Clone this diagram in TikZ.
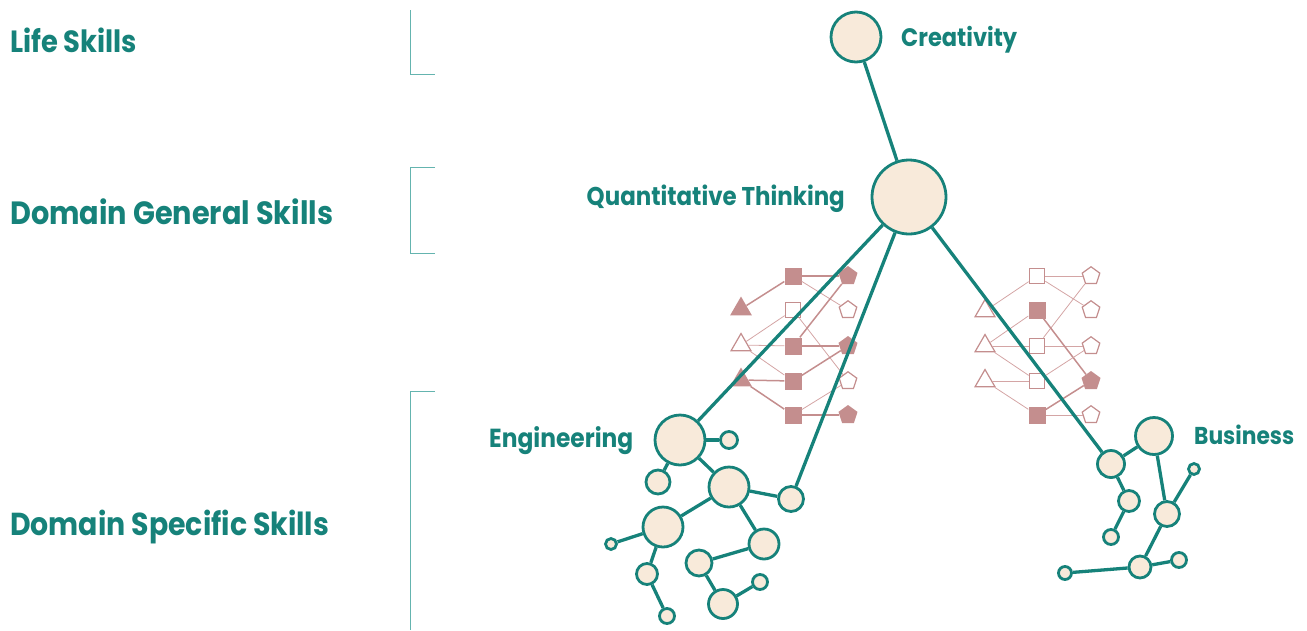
\documentclass[tikz,border=0pt]{standalone}
\usepackage{fontspec}
\setmainfont{Poppins}
\usetikzlibrary{shapes.geometric}
\definecolor{tealc}{RGB}{22,130,122}
\definecolor{beige}{RGB}{248,234,218}
\definecolor{rose}{RGB}{196,142,142}
\definecolor{rosel}{RGB}{212,165,165}
\definecolor{brk}{RGB}{100,180,175}
\newcommand\fitw[2]{\resizebox{#1}{!}{\scalebox{1}[1.12]{#2}}}
\begin{document}
\begin{tikzpicture}[x=1pt,y=-1pt,
  lbl/.style={text=tealc, font=\bfseries, inner sep=0pt, anchor=base west},
  circ/.style={circle, draw=tealc, fill=beige, line width=2.8pt, inner sep=0pt, minimum size=#1},
  tedge/.style={draw=tealc, line width=3.3pt},
  sqf/.style={rectangle, fill=rose, inner sep=0pt, minimum size=17},
  sqo/.style={rectangle, draw=rose, fill=white, line width=1.2pt, inner sep=0pt, minimum size=15.5},
  trif/.style={regular polygon, regular polygon sides=3, fill=rose, inner sep=0pt, minimum size=25},
  trio/.style={regular polygon, regular polygon sides=3, draw=rose, fill=white, line width=1.2pt, inner sep=0pt, minimum size=23},
  penf/.style={regular polygon, regular polygon sides=5, fill=rose, inner sep=0pt, minimum size=20},
  peno/.style={regular polygon, regular polygon sides=5, draw=rose, fill=white, line width=1.2pt, inner sep=0pt, minimum size=18.5},
  lthin/.style={draw=rosel, line width=0.8pt},
  lthick/.style={draw=rose, line width=1.5pt},
  bracket/.style={draw=brk, line width=1pt}
]
\useasboundingbox (0,0) rectangle (1307,630);

% brackets
\coordinate (b1t) at (410,10); \coordinate (b1c) at (410,74); \coordinate (b1e) at (435,74);
\draw[bracket] (b1t) -- (b1c) -- (b1e);
\coordinate (b2a) at (435,167); \coordinate (b2b) at (410,167); \coordinate (b2c) at (410,253); \coordinate (b2d) at (435,253);
\draw[bracket] (b2a) -- (b2b) -- (b2c) -- (b2d);
\coordinate (b3a) at (435,391); \coordinate (b3b) at (410,391); \coordinate (b3c) at (410,630);
\draw[bracket] (b3a) -- (b3b) -- (b3c);

% left labels
\node[lbl] (life) at (10,52) {\fitw{127pt}{Life Skills}};
\node[lbl] (dgs) at (10,224) {\fitw{323pt}{Domain General Skills}};
\node[lbl] (dss) at (10,535) {\fitw{319pt}{Domain Specific Skills}};

% left shape grid
\node[sqf] (ls1) at (793,276) {};
\node[sqo] (ls2) at (793,310) {};
\node[sqf] (ls3) at (793,346) {};
\node[sqf] (ls4) at (793,381) {};
\node[sqf] (ls5) at (793,415) {};
\node[trif] (lt1) at (741,309) {};
\node[trio] (lt2) at (741,345) {};
\node[trif] (lt3) at (741,380) {};
\node[penf] (lp1) at (848,276) {};
\node[peno] (lp2) at (848,310) {};
\node[penf] (lp3) at (848,346) {};
\node[peno] (lp4) at (848,381) {};
\node[penf] (lp5) at (848,415) {};
\draw[lthick] (ls1) -- (lt1);
\draw[lthick] (ls1) -- (lp1);
\draw[lthin] (ls1) -- (lp2);
\draw[lthin] (ls2) -- (lt2);
\draw[lthin] (ls2) -- (lp4);
\draw[lthick] (ls3) -- (lp1);
\draw[lthin] (lt2) -- (ls3);
\draw[lthick] (ls3) -- (lp3);
\draw[lthin] (lt2) -- (ls4);
\draw[lthick] (lt3) -- (ls4);
\draw[lthick] (ls4) -- (lp3);
\draw[lthick] (lt3) -- (ls5);
\draw[lthin] (ls5) -- (lp4);
\draw[lthick] (ls5) -- (lp5);

% right shape grid
\node[sqo] (rs1) at (1037,276) {};
\node[sqf] (rs2) at (1037,310) {};
\node[sqo] (rs3) at (1037,346) {};
\node[sqo] (rs4) at (1037,381) {};
\node[sqf] (rs5) at (1037,415) {};
\node[trio] (rt1) at (985,311) {};
\node[trio] (rt2) at (985,346) {};
\node[trio] (rt3) at (985,381) {};
\node[peno] (rp1) at (1091,276) {};
\node[peno] (rp2) at (1091,310) {};
\node[peno] (rp3) at (1091,346) {};
\node[penf] (rp4) at (1091,381) {};
\node[peno] (rp5) at (1091,415) {};
\draw[lthin] (rt1) -- (rs1);
\draw[lthin] (rs1) -- (rp1);
\draw[lthin] (rs1) -- (rp2);
\draw[lthin] (rt2) -- (rs2);
\draw[lthin] (rt2) -- (rs3);
\draw[lthin] (rt2) -- (rs4);
\draw[lthin] (rs3) -- (rp1);
\draw[lthin] (rs3) -- (rp3);
\draw[lthick] (rs2) -- (rp4);
\draw[lthin] (rs4) -- (rp3);
\draw[lthin] (rt3) -- (rs4);
\draw[lthin] (rt3) -- (rs5);
\draw[lthick] (rs5) -- (rp4);
\draw[lthin] (rs5) -- (rp5);

% main nodes
\node[circ=50] (cre) at (856,37) {};
\node[circ=74] (qt) at (909,197) {};
\node[lbl] (crel) at (901,46) {\fitw{116pt}{Creativity}};
\node[lbl, anchor=base east] (qtl) at (845,205) {\fitw{258pt}{Quantitative Thinking}};

% engineering network
\node[circ=50] (eA) at (680,440) {};
\node[circ=17] (eB) at (729,440) {};
\node[circ=24] (eC) at (658,482) {};
\node[circ=40] (eD) at (729,487) {};
\node[circ=25] (eE) at (791,499) {};
\node[circ=40] (eF) at (663,527) {};
\node[circ=11] (eG) at (611,544) {};
\node[circ=30] (eH) at (764,544) {};
\node[circ=26] (eI) at (699,563) {};
\node[circ=21] (eJ) at (647,574) {};
\node[circ=15] (eK) at (760,582) {};
\node[circ=29] (eL) at (723,604) {};
\node[circ=15] (eM) at (667,616) {};
\node[lbl] (engl) at (489,447) {\fitw{144pt}{Engineering}};

% business network
\node[circ=27] (bP) at (1111,464) {};
\node[circ=37] (bQ) at (1154,436) {};
\node[circ=21] (bR) at (1129,501) {};
\node[circ=15] (bS) at (1111,537) {};
\node[circ=25] (bT) at (1167,514) {};
\node[circ=11] (bU) at (1194,469) {};
\node[circ=22] (bV) at (1140,567) {};
\node[circ=15] (bW) at (1179,560) {};
\node[circ=13] (bX) at (1065,573) {};
\node[lbl] (busl) at (1194,444) {\fitw{100pt}{Business}};

% teal edges
\draw[tedge] (cre) -- (qt);
\draw[tedge] (qt) -- (eA);
\draw[tedge] (qt) -- (eE);
\draw[tedge] (qt) -- (bP);
\draw[tedge] (eA) -- (eB);
\draw[tedge] (eA) -- (eC);
\draw[tedge] (eA) -- (eD);
\draw[tedge] (eD) -- (eE);
\draw[tedge] (eD) -- (eF);
\draw[tedge] (eF) -- (eG);
\draw[tedge] (eD) -- (eH);
\draw[tedge] (eH) -- (eI);
\draw[tedge] (eF) -- (eJ);
\draw[tedge] (eJ) -- (eM);
\draw[tedge] (eI) -- (eL);
\draw[tedge] (eL) -- (eK);
\draw[tedge] (bP) -- (bQ);
\draw[tedge] (bP) -- (bR);
\draw[tedge] (bR) -- (bS);
\draw[tedge] (bQ) -- (bT);
\draw[tedge] (bT) -- (bU);
\draw[tedge] (bT) -- (bV);
\draw[tedge] (bV) -- (bW);
\draw[tedge] (bV) -- (bX);
\end{tikzpicture}
\end{document}
